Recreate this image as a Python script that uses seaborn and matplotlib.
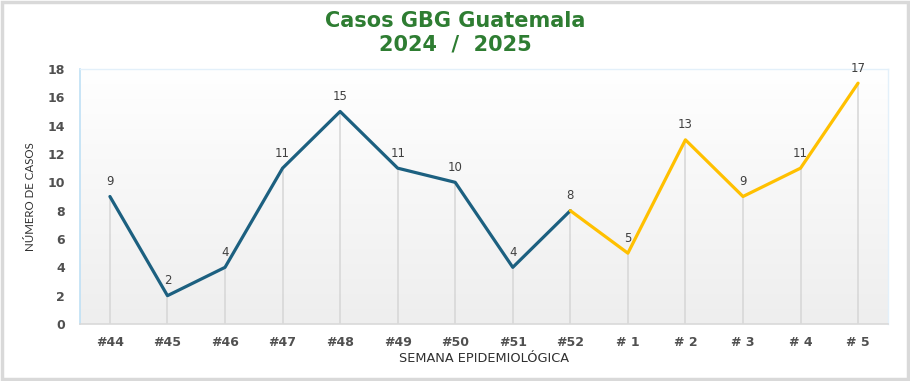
import matplotlib
matplotlib.use("Agg")
import matplotlib.pyplot as plt
import seaborn as sns
import numpy as np
import pandas as pd
from matplotlib.colors import LinearSegmentedColormap

weeks = ["#44", "#45", "#46", "#47", "#48", "#49", "#50", "#51", "#52", "# 1", "# 2", "# 3", "# 4", "# 5"]
cases = [9, 2, 4, 11, 15, 11, 10, 4, 8, 5, 13, 9, 11, 17]

sns.set_theme(style="white")
plt.rcParams['font.family'] = ['DejaVu Sans']

df = pd.DataFrame({"week": weeks, "cases": cases, "pos": np.arange(len(weeks))})
blue = "#1C6080"
yellow = "#FFC000"

fig = plt.figure(figsize=(9.1, 3.81), dpi=100)
fig.patch.set_facecolor("white")
fig.add_artist(plt.Rectangle((0.002, 0.004), 0.996, 0.992, transform=fig.transFigure,
                             fill=False, edgecolor="#d9d9d9", linewidth=2.5))
ax = fig.add_axes([80/910, 1 - 324/381, (888-80)/910, (324-69)/381])

# gradient background: white at top, light gray at bottom
grad = np.linspace(0, 1, 256).reshape(-1, 1)
cmap = LinearSegmentedColormap.from_list("g", ["#eeeeee", "#ffffff"])
ax.imshow(grad, aspect="auto", cmap=cmap, extent=[-0.52, 13.52, 0, 18], origin="lower", zorder=0)

ax.vlines(df["pos"], 0, df["cases"], color="#d6d6d6", linewidth=1.1, zorder=1)

d1 = df.iloc[:9]
d2 = df.iloc[8:]
sns.lineplot(x="pos", y="cases", data=d1, ax=ax, color=blue, linewidth=2.3, zorder=3)
sns.lineplot(x="pos", y="cases", data=d2, ax=ax, color=yellow, linewidth=2.3, zorder=3)

for p, c in zip(df["pos"], df["cases"]):
    ax.text(p, c + 0.6, str(c), ha="center", va="bottom", fontsize=8.5, color="#404040")

ax.set_xlim(-0.52, 13.52)
ax.set_ylim(0, 18)
ax.set_yticks(range(0, 19, 2))
ax.set_xticks(df["pos"])
ax.set_xticklabels(weeks)
ax.tick_params(axis="x", labelsize=9, colors="#505050", length=0, pad=9)
ax.tick_params(axis="y", labelsize=9, colors="#505050", length=0, pad=11)
for lab in ax.get_xticklabels() + ax.get_yticklabels():
    lab.set_fontweight("bold")
ax.set_xlabel("SEMANA EPIDEMIOLÓGICA", fontsize=9.3, color="#303030", labelpad=2)
ax.set_ylabel("NÚMERO DE CASOS", fontsize=8.3, color="#303030", labelpad=8,
              fontfamily="Lato")

for s in ["top", "right"]:
    ax.spines[s].set_color("#e3f0fa")
    ax.spines[s].set_linewidth(1)
ax.spines["left"].set_color("#bfe0f5")
ax.spines["left"].set_linewidth(1.2)
ax.spines["bottom"].set_color("#d9d9d9")
ax.spines["bottom"].set_linewidth(1.2)

fig.text(0.5, 1 - 21/381, "Casos GBG Guatemala", ha="center", va="center",
         fontsize=15, fontweight="bold", color="#2E7D32")
fig.text(0.5, 1 - 45/381, "2024  /  2025", ha="center", va="center",
         fontsize=15, fontweight="bold", color="#2E7D32")

fig.savefig("out.png", dpi=100)
